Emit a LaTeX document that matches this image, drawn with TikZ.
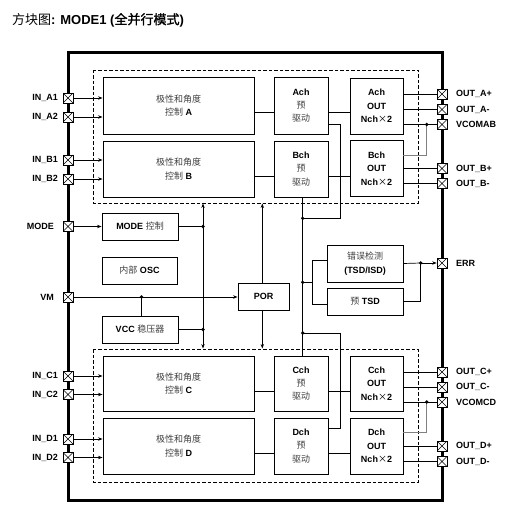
\documentclass[tikz,border=0pt]{standalone}
\usepackage{fontspec}
\setmainfont{Liberation Sans}
\newfontfamily\cjk{Noto Sans CJK SC}
\newfontfamily\cjkb{Noto Sans CJK SC}[FakeBold=1.5]
\usetikzlibrary{arrows.meta,calc}
\newcommand{\cn}[1]{{\cjk\mdseries\color{black!75}#1}}
\tikzset{
  pinbox/.style={draw,fill=white,minimum size=10pt,inner sep=0pt,line width=0.6pt,
    path picture={\draw[line width=0.5pt] (path picture bounding box.north west) -- (path picture bounding box.south east)
      (path picture bounding box.south west) -- (path picture bounding box.north east);}},
  blk/.style={draw,line width=0.9pt,inner sep=0pt,align=center,font=\fontsize{9}{13.4}\selectfont\bfseries},
  lbl/.style={font=\fontsize{9}{11}\selectfont\bfseries,inner sep=0pt},
  wire/.style={line width=0.7pt},
  arr/.style={wire,-{Stealth[length=4.5pt,width=3.4pt]}},
  dbl/.style={wire,{Stealth[length=4.5pt,width=3.4pt]}-{Stealth[length=4.5pt,width=3.4pt]}},
  dash box/.style={line width=0.7pt,dash pattern=on 3.5pt off 2pt},
  dot/.style={circle,fill,inner sep=0pt,minimum size=3.6pt}
}
\begin{document}
\begin{tikzpicture}[x=1pt,y=-1pt]
\useasboundingbox (0,0) rectangle (531,519);
\fill[white] (0,0) rectangle (531,519);

% title
\node[anchor=west,inner sep=0pt,font=\fontsize{13}{15}\selectfont] (title) at (12,20)
  {{\cjk 方块图}\textbf{: MODE1 (}{\cjkb 全并行模式}\textbf{)}};

% chip outline
\draw[line width=3pt] (68,53) rectangle (442,500);

% dashed groups
\draw[dash box] (93,70) rectangle (418,203);
\draw[dash box] (93,349) rectangle (418,482);

% control blocks
\node[blk,minimum width=151pt,minimum height=57pt] (ctrlA) at (178.5,105.5) {\cn{极性和角度}\\\cn{控制} A};
\node[blk,minimum width=151pt,minimum height=56pt] (ctrlB) at (178.5,169) {\cn{极性和角度}\\\cn{控制} B};
\node[blk,minimum width=151pt,minimum height=55pt] (ctrlC) at (178.5,383.5) {\cn{极性和角度}\\\cn{控制} C};
\node[blk,minimum width=151pt,minimum height=56pt] (ctrlD) at (178.5,446) {\cn{极性和角度}\\\cn{控制} D};

% pre-drivers
\node[blk,minimum width=54pt,minimum height=57pt] (preA) at (301,105.5) {Ach\\\cn{预}\\\cn{驱动}};
\node[blk,minimum width=54pt,minimum height=56pt] (preB) at (301,169) {Bch\\\cn{预}\\\cn{驱动}};
\node[blk,minimum width=54pt,minimum height=55pt] (preC) at (301,383.5) {Cch\\\cn{预}\\\cn{驱动}};
\node[blk,minimum width=54pt,minimum height=56pt] (preD) at (301,446) {Dch\\\cn{预}\\\cn{驱动}};

% output stages
\node[blk,minimum width=53pt,minimum height=56pt] (outA) at (376.5,106) {Ach\\OUT\\Nch{\cjk\mdseries ×}2};
\node[blk,minimum width=53pt,minimum height=56pt] (outB) at (376.5,168.5) {Bch\\OUT\\Nch{\cjk\mdseries ×}2};
\node[blk,minimum width=53pt,minimum height=55pt] (outC) at (376.5,383.5) {Cch\\OUT\\Nch{\cjk\mdseries ×}2};
\node[blk,minimum width=53pt,minimum height=56pt] (outD) at (376.5,446) {Dch\\OUT\\Nch{\cjk\mdseries ×}2};

% misc blocks
\node[blk,minimum width=76pt,minimum height=27pt] (modectl) at (140,226.5) {MODE \cn{控制}};
\node[blk,minimum width=75pt,minimum height=27pt] (osc) at (139.5,270.5) {\cn{内部} OSC};
\node[blk,minimum width=76pt,minimum height=27pt] (vcc) at (140,329.5) {VCC \cn{稳压器}};
\node[blk,minimum width=51pt,minimum height=27pt] (por) at (263.5,296.5) {POR};
\node[blk,minimum width=76pt,minimum height=37pt] (errdet) at (365,263.5) {\cn{错误检测}\\(TSD/ISD)};
\node[blk,minimum width=76pt,minimum height=27pt] (pretsd) at (365,301.5) {\cn{预} TSD};

% left pins
\node[pinbox] (ina1) at (68,98) {};
\node[pinbox] (ina2) at (68,117) {};
\node[pinbox] (inb1) at (68,160) {};
\node[pinbox] (inb2) at (68,179) {};
\node[pinbox] (mode) at (68,226.5) {};
\node[pinbox] (vm)   at (68,297) {};
\node[pinbox] (inc1) at (68,376) {};
\node[pinbox] (inc2) at (68,394.5) {};
\node[pinbox] (ind1) at (68,439) {};
\node[pinbox] (ind2) at (68,457.5) {};

\node[lbl,anchor=east] (lina1) at (58,98) {IN\_A1};
\node[lbl,anchor=east] (lina2) at (58,117) {IN\_A2};
\node[lbl,anchor=east] (linb1) at (58,160) {IN\_B1};
\node[lbl,anchor=east] (linb2) at (58,179) {IN\_B2};
\node[lbl,anchor=east] (lmode) at (54,226.5) {MODE};
\node[lbl,anchor=east] (lvm)   at (54,297) {VM};
\node[lbl,anchor=east] (linc1) at (58,376) {IN\_C1};
\node[lbl,anchor=east] (linc2) at (58,394.5) {IN\_C2};
\node[lbl,anchor=east] (lind1) at (58,439) {IN\_D1};
\node[lbl,anchor=east] (lind2) at (58,457.5) {IN\_D2};

% right pins
\node[pinbox] (oap) at (442,94) {};
\node[pinbox] (oam) at (442,109.5) {};
\node[pinbox] (vab) at (442,124.5) {};
\node[pinbox] (obp) at (442,168.5) {};
\node[pinbox] (obm) at (442,183.5) {};
\node[pinbox] (err) at (442,263) {};
\node[pinbox] (ocp) at (442,372) {};
\node[pinbox] (ocm) at (442,387) {};
\node[pinbox] (vcd) at (442,402) {};
\node[pinbox] (odp) at (442,446) {};
\node[pinbox] (odm) at (442,461.5) {};

\node[lbl,anchor=west] (loap) at (456,94) {OUT\_A+};
\node[lbl,anchor=west] (loam) at (456,109.5) {OUT\_A-};
\node[lbl,anchor=west] (lvab) at (456,124.5) {VCOMAB};
\node[lbl,anchor=west] (lobp) at (456,168.5) {OUT\_B+};
\node[lbl,anchor=west] (lobm) at (456,183.5) {OUT\_B-};
\node[lbl,anchor=west] (lerr) at (456,263) {ERR};
\node[lbl,anchor=west] (locp) at (456,372) {OUT\_C+};
\node[lbl,anchor=west] (locm) at (456,387) {OUT\_C-};
\node[lbl,anchor=west] (lvcd) at (456,402) {VCOMCD};
\node[lbl,anchor=west] (lodp) at (456,446) {OUT\_D+};
\node[lbl,anchor=west] (lodm) at (456,461.5) {OUT\_D-};

% inputs to control blocks
\foreach \p/\b in {ina1/ctrlA,ina2/ctrlA,inb1/ctrlB,inb2/ctrlB,inc1/ctrlC,inc2/ctrlC,ind1/ctrlD,ind2/ctrlD}
  \draw[arr] (\p.east) -- (\p.east -| \b.west);

% control -> pre -> out
\coordinate (la) at ([yshift=-7pt]ctrlA.east);
\coordinate (lb) at ([yshift=-7.5pt]ctrlB.east);
\coordinate (lc) at ([yshift=-8pt]ctrlC.east);
\coordinate (ld) at ([yshift=-7pt]ctrlD.east);
\foreach \l/\q/\o in {la/preA/outA,lb/preB/outB,lc/preC/outC,ld/preD/outD}{
  \draw[wire] (\l) -- (\l -| \q.west);
  \draw[wire] (\l -| \q.east) -- (\l -| \o.west);
}

% outputs to pins
\foreach \p/\o in {oap/outA,oam/outA,vab/outA,obp/outB,obm/outB,ocp/outC,ocm/outC,vcd/outC,odp/outD,odm/outD}
  \draw[wire] (\p.west -| \o.east) -- (\p.west);

% VCOM links
\coordinate (jab) at ([xshift=-10pt]vab.west);
\coordinate (jcd) at ([xshift=-10pt]vcd.west);
\draw[wire,gray] ([yshift=13.5pt]outB.east) -| (jab);
\draw[wire,gray] ([yshift=14pt]outD.east) -| (jcd);
\node[dot] (djab) at (jab) {};
\node[dot] (djcd) at (jcd) {};

% central bus
\coordinate (busT) at ([xshift=1.7pt]preB.south);
\coordinate (busB) at (busT |- preC.north);
\draw[wire] (busT) -- (busB);
\coordinate (j1) at (busT |- 0,218.3);
\coordinate (j2) at (busT |- 0,282.3);
\coordinate (j3) at (busT |- 0,333);
\coordinate (k1) at (340.3,218.3);
\coordinate (k2) at (312.3,282.3);
\coordinate (k3) at (340.3,333);
\draw[wire] ([yshift=-18.5pt]preA.east) -| (k1) -- (j1);
\draw[wire] (j2) -- (k2);
\draw[wire] ([yshift=3pt]errdet.west) -| (k2) |- ([yshift=-3pt]pretsd.west);
\draw[wire] (j3) -- (k3) |- ([yshift=17.7pt]preD.east);
\node[dot] (dj1) at (j1) {};
\node[dot] (dj2) at (j2) {};
\node[dot] (dj3) at (j3) {};

% ERR
\coordinate (jerr) at (420.7,263);
\draw[wire] (errdet.east) -- (jerr);
\draw[wire] (pretsd.east) -| (jerr);
\draw[arr] (jerr) -- (err.west);
\node[dot] (djerr) at (jerr) {};

% left side
\draw[arr] (mode.east) -- (modectl.west);
\coordinate (vt) at (203,203.5);
\coordinate (vb) at (203,348.5);
\draw[dbl] (vb) -- (vt);
\coordinate (jm) at (vt |- modectl.east);
\coordinate (jv) at (vt |- vcc.east);
\draw[wire] (modectl.east) -- (jm);
\draw[wire] (vcc.east) -- (jv);
\node[dot] (djm) at (jm) {};
\node[dot] (djv) at (jv) {};

% VM and POR
\draw[arr] (vm.east) -- (vm.east -| por.west);
\coordinate (jvm) at ([xshift=1.5pt]vcc.north |- vm.east);
\draw[wire] (jvm) -- (jvm |- vcc.north);
\node[dot] (djvm) at (jvm) {};
\coordinate (pt) at ([xshift=-1.2pt]por.north |- vt);
\coordinate (pb) at ([xshift=-1.2pt]por.south |- vb);
\draw[arr] (pt |- por.north) -- (pt);
\draw[arr] (pb |- por.south) -- (pb);
\end{tikzpicture}
\end{document}
